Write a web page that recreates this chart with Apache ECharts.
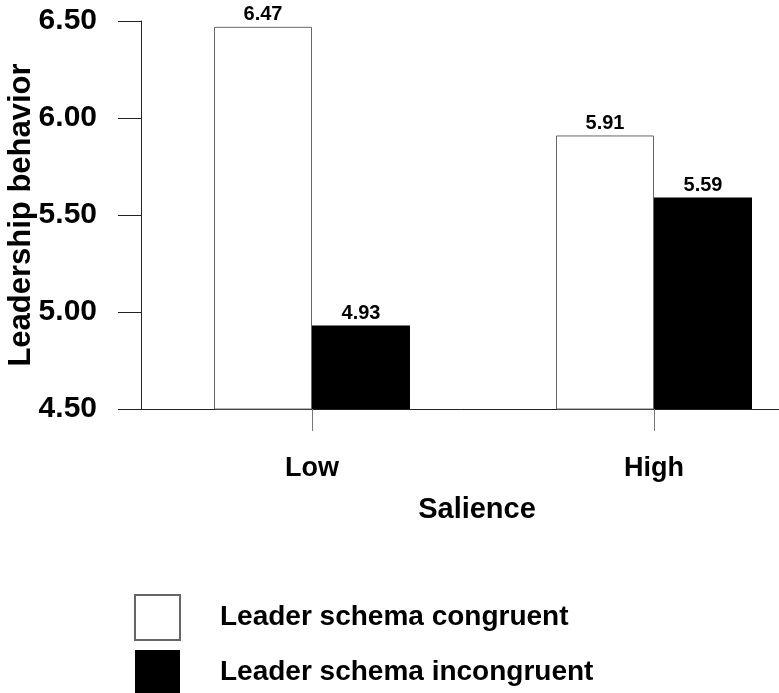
<!DOCTYPE html>
<html>
<head>
<meta charset="utf-8">
<script src="https://cdn.jsdelivr.net/npm/echarts@6/dist/echarts.min.js"></script>
<style>
  html, body { margin: 0; padding: 0; background: #fff; }
  #chart { width: 779px; height: 693px; }
</style>
</head>
<body>
<div id="chart"></div>
<script>
const categories = ['Low', 'High'];
const congruentValues = [6.47, 5.91];
const incongruentValues = [4.93, 5.59];
const seriesNames = ['Leader schema congruent', 'Leader schema incongruent'];
const yTickLabels = ['4.50', '5.00', '5.50', '6.00', '6.50'];

const FONT = 'Liberation Sans, Arial, sans-serif';
const chart = echarts.init(document.getElementById('chart'), null, { renderer: 'canvas' });

const valueLabel = {
  show: true,
  position: 'top',
  distance: 2,
  color: '#000',
  fontFamily: FONT,
  fontWeight: 'bold',
  fontSize: 20,
  formatter: p => p.value.toFixed(2)
};

chart.setOption({
  backgroundColor: '#fff',
  animation: false,
  grid: { left: 141, top: 21, width: 684, height: 388, containLabel: false, outerBoundsMode: 'none' },
  legend: {
    orient: 'vertical',
    left: 134,
    top: 594,
    height: 160,
    padding: 0,
    itemWidth: 45,
    itemHeight: 45,
    itemGap: 9,
    icon: 'rect',
    data: seriesNames,
    selectedMode: false,
    textStyle: {
      fontFamily: FONT,
      fontWeight: 'bold',
      fontSize: 28,
      color: '#000',
      padding: [12, 0, 0, 35]
    }
  },
  xAxis: {
    type: 'category',
    data: categories,
    name: 'Salience',
    nameLocation: 'middle',
    nameGap: 86,
    nameTextStyle: { fontFamily: FONT, fontWeight: 'bold', fontSize: 29, color: '#000', padding: [0, 12, 0, 0] },
    axisLine: { lineStyle: { color: '#222', width: 1 } },
    axisTick: { show: true, alignWithLabel: true, length: 22, lineStyle: { color: '#777' } },
    axisLabel: { margin: 46, fontFamily: FONT, fontWeight: 'bold', fontSize: 27, color: '#000' },
    splitLine: { show: false }
  },
  yAxis: {
    type: 'value',
    min: 4.5,
    max: 6.5,
    interval: 0.5,
    name: 'Leadership behavior',
    nameLocation: 'middle',
    nameGap: 104,
    nameMoveOverlap: false,
    nameTextStyle: { fontFamily: FONT, fontWeight: 'bold', fontSize: 31, color: '#000' },
    axisLine: { show: true, lineStyle: { color: '#222', width: 1 } },
    axisTick: { show: true, length: 23, lineStyle: { color: '#222' } },
    axisLabel: {
      margin: 44,
      fontFamily: FONT,
      fontWeight: 'bold',
      fontSize: 30,
      color: '#000',
      formatter: v => yTickLabels.find(t => Math.abs(parseFloat(t) - v) < 1e-6) || v.toFixed(2)
    },
    splitLine: { show: false }
  },
  series: [
    {
      name: seriesNames[0],
      type: 'bar',
      data: congruentValues,
      barWidth: 98,
      barGap: '0%',
      itemStyle: { color: '#fff', borderColor: '#666', borderWidth: 1 },
      label: valueLabel
    },
    {
      name: seriesNames[1],
      type: 'bar',
      data: incongruentValues,
      barWidth: 98,
      barGap: '0%',
      itemStyle: { color: '#000', borderColor: '#000', borderWidth: 0 },
      label: valueLabel
    }
  ]
});
</script>
</body>
</html>
